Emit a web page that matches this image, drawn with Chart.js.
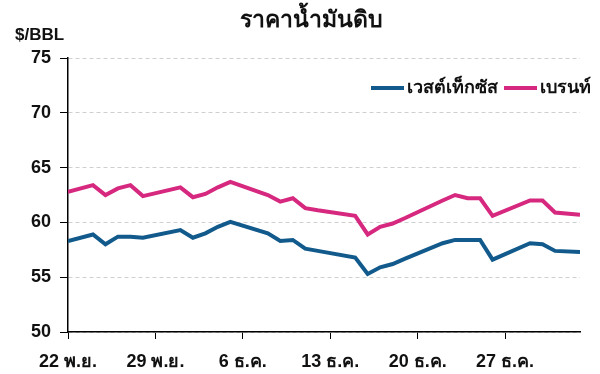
<!DOCTYPE html>
<html>
<head>
<meta charset="utf-8">
<script src="https://cdn.jsdelivr.net/npm/chart.js@4.4.1/dist/chart.umd.min.js"></script>
<style>
    html, body { margin: 0; padding: 0; background: #fff; }
    #wrap { width: 600px; height: 374px; }
</style>
</head>
<body>
<div id="wrap"><canvas id="oilChart"></canvas></div>
<script>
// days counted from 22 พ.ย. (day 0) to 2 ม.ค. (day 41), weekends/holidays skipped
const tradeDays = [0, 2, 3, 4, 5, 6, 9, 10, 11, 12, 13, 16, 17, 18, 19, 20, 23, 24, 25, 26, 27, 30, 31, 32, 33, 34, 37, 38, 39, 41];
const wtiPrices = [58.3, 58.9, 58.0, 58.7, 58.7, 58.6, 59.3, 58.6, 59.0, 59.6, 60.05, 59.0, 58.3, 58.4, 57.6, 57.4, 56.8, 55.3, 55.9, 56.2, 56.7, 58.1, 58.4, 58.4, 58.4, 56.6, 58.1, 58.0, 57.4, 57.3];
const brentPrices = [62.8, 63.4, 62.5, 63.1, 63.4, 62.4, 63.2, 62.3, 62.6, 63.2, 63.7, 62.5, 61.9, 62.2, 61.3, 61.1, 60.6, 58.9, 59.6, 59.9, 60.4, 62.0, 62.5, 62.2, 62.2, 60.6, 62.0, 62.0, 60.9, 60.7];
const tickLabels = ['22 พ.ย.', '29 พ.ย.', '6 ธ.ค.', '13 ธ.ค.', '20 ธ.ค.', '27 ธ.ค.'];
const seriesNames = ['เวสต์เท็กซัส', 'เบรนท์'];
const titleText = 'ราคาน้ำมันดิบ';
const unitText = '$/BBL';

const FONT = "'Liberation Sans', Arial, sans-serif";

// title, unit label and the legend that sits over the plot
const headerPlugin = {
    id: 'header',
    afterDraw(chart) {
        const ctx = chart.ctx;
        ctx.save();
        ctx.fillStyle = '#111';
        ctx.textBaseline = 'middle';

        ctx.font = `bold 23px ${FONT}`;
        ctx.textAlign = 'center';
        ctx.fillText(titleText, 311, 21);

        ctx.font = `bold 17px ${FONT}`;
        ctx.textAlign = 'left';
        ctx.fillText(unitText, 15, 35);

        // legend, laid out from the right edge
        ctx.font = `bold 18px ${FONT}`;
        let right = 591;
        const y = 88;
        const items = chart.data.datasets.slice().reverse();
        items.forEach(ds => {
            const w = ctx.measureText(ds.label).width;
            ctx.fillStyle = '#111';
            ctx.textAlign = 'right';
            ctx.fillText(ds.label, right, y);
            const lineEnd = right - w - 3;
            ctx.strokeStyle = ds.borderColor;
            ctx.lineWidth = 4;
            ctx.beginPath();
            ctx.moveTo(lineEnd - 33, y);
            ctx.lineTo(lineEnd, y);
            ctx.stroke();
            right = lineEnd - 33 - 6;
        });
        ctx.restore();
    }
};

const toPoints = values => values.map((v, i) => ({ x: tradeDays[i], y: v }));

new Chart(document.getElementById('oilChart'), {
    type: 'line',
    data: {
        datasets: [
            {
                label: seriesNames[0],
                data: toPoints(wtiPrices),
                borderColor: '#125a8c',
                borderWidth: 4,
                pointRadius: 0,
                tension: 0
            },
            {
                label: seriesNames[1],
                data: toPoints(brentPrices),
                borderColor: '#d6287f',
                borderWidth: 4,
                pointRadius: 0,
                tension: 0
            }
        ]
    },
    options: {
        responsive: true,
        maintainAspectRatio: false,
        animation: false,
        layout: { padding: { top: 58, right: 20, left: 0, bottom: 0 } },
        plugins: { legend: { display: false }, tooltip: { enabled: false } },
        scales: {
            x: {
                type: 'linear',
                min: 0,
                max: 41,
                afterFit: s => { s.height = 42; },
                grid: { drawOnChartArea: false, tickColor: '#000', tickLength: 7 },
                border: { color: '#000', width: 1.5 },
                ticks: {
                    stepSize: 7,
                    autoSkip: false,
                    maxRotation: 0,
                    padding: 12,
                    color: '#111',
                    font: { family: FONT, size: 18, weight: 'bold' },
                    callback: v => tickLabels[v / 7] ?? null
                }
            },
            y: {
                min: 50,
                max: 75,
                afterFit: s => { s.width = 68; },
                grid: { color: '#cfcfcf', tickColor: '#000', tickLength: 8 },
                border: { color: '#000', width: 1.5, dash: [4, 3] },
                ticks: {
                    stepSize: 5,
                    padding: 9,
                    color: '#111',
                    font: { family: FONT, size: 18, weight: 'bold' }
                }
            }
        }
    },
    plugins: [headerPlugin]
});
</script>
</body>
</html>
